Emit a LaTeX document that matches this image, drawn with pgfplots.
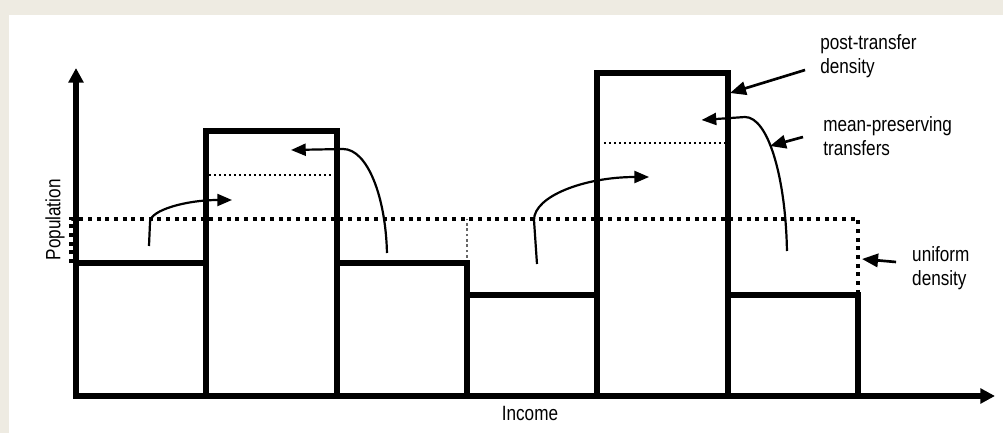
\documentclass[border=0pt]{standalone}
\usepackage{pgfplots}
\pgfplotsset{compat=1.18}
\usepackage{fontspec}
\setmainfont[FakeStretch=0.83]{Liberation Sans}
\usetikzlibrary{arrows.meta}
\definecolor{frame}{RGB}{238,235,226}

\begin{document}
\begin{tikzpicture}
% page: 1px = 0.75pt, axis origin sits at (0,0)
\fill[frame] (-57pt,-27.75pt) rectangle (695.25pt,297pt);
\fill[white] (-50.25pt,-27.75pt) rectangle (695.25pt,285.75pt);
\begin{axis}[
    x=97.75pt, y=75pt,
    xmin=0, xmax=7.051, ymin=0, ymax=3.28,
    axis lines=left,
    axis line style={line width=4.3pt, -{Triangle[length=11pt,width=11pt]}},
    xtick=\empty, ytick=\empty,
    clip=false,
    font=\fontsize{15.5}{18}\selectfont,
    xlabel={Income}, ylabel={Population},
    xlabel style={at={(rel axis cs:0.494,-0.052)}, anchor=center},
    ylabel style={at={(rel axis cs:-0.0228,0.537)}, anchor=center},
    ]
    % uniform density
    \addplot[line width=3.2pt, dash pattern=on 3pt off 3.5pt] coordinates {
        (-0.035,1.33) (-0.035,1.77) (6,1.77) (6,1.01)};
    \addplot[line width=1.5pt, dash pattern=on 2pt off 2pt, black!60] coordinates {
        (3,1.33) (3,1.77)};
    % post-transfer density
    \addplot[ybar interval, draw=black, fill=none, line width=4.4pt, line join=miter] coordinates {
        (0,1.33) (1,2.65) (2,1.33) (3,1.01) (4,3.23) (5,1.01) (6,0)};
    % intermediate levels
    \addplot[line width=1.5pt, dash pattern=on 1.5pt off 2.25pt] coordinates {(1.02,2.21) (2.02,2.21)};
    \addplot[line width=1.5pt, dash pattern=on 1.5pt off 2.25pt] coordinates {(4.05,2.53) (5.04,2.53)};

    % transfers
    \draw[line width=1.65pt, -{Triangle[length=11pt,width=9pt]}]
        (0.56,1.50) -- (0.568,1.74) .. controls (0.568,1.86) and (0.85,1.96) .. (1.197,1.96);
    \draw[line width=1.65pt, -{Triangle[length=11pt,width=9pt]}]
        (2.386,1.43) .. controls (2.376,2.00) and (2.234,2.47) .. (2.049,2.47) -- (1.65,2.46);
    \draw[line width=1.65pt, -{Triangle[length=11pt,width=9pt]}]
        (3.537,1.32) -- (3.514,1.76) .. controls (3.514,2.00) and (3.905,2.19) .. (4.397,2.19);
    \draw[line width=1.65pt, -{Triangle[length=11pt,width=9pt]}]
        (5.455,1.45) .. controls (5.445,2.19) and (5.31,2.79) .. (5.133,2.79) -- (4.80,2.76);

    % annotations
    \draw[line width=2pt, -{Triangle[length=12pt,width=10pt]}] (5.594,3.26) -- (5.018,3.03);
    \draw[line width=2pt, -{Triangle[length=12pt,width=10pt]}] (5.578,2.59) -- (5.325,2.50);
    \draw[line width=2pt, -{Triangle[length=12pt,width=10pt]}] (6.292,1.34) -- (6.031,1.37);
    \node[anchor=west, align=left, inner sep=0pt] at (5.709,3.40) {post-transfer\\density};
    \node[anchor=west, align=left, inner sep=0pt] at (5.732,2.60) {mean-preserving\\transfers};
    \node[anchor=west, align=left, inner sep=0pt] at (6.414,1.28) {uniform\\density};
\end{axis}
\end{tikzpicture}
\end{document}
